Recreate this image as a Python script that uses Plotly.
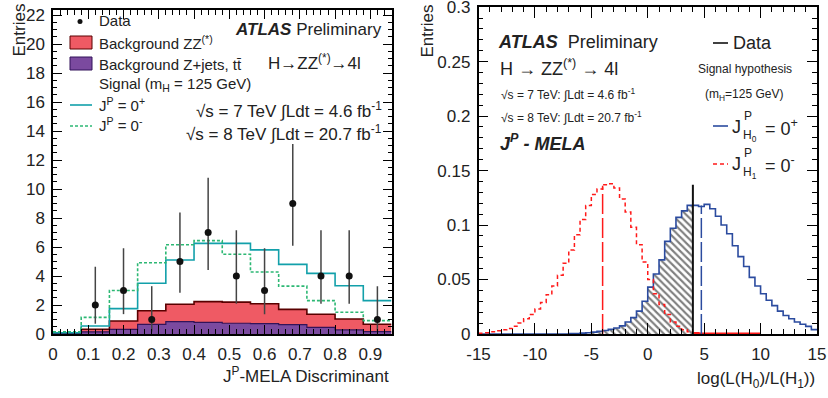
import numpy as np
import plotly.graph_objects as go

W, H = 828, 398
FONT = "Liberation Sans, Arial, Helvetica, sans-serif"

# ---------------- Left panel: JP-MELA discriminant ----------------
mela_lo, mela_width, mela_nbins = 0.0, 0.08, 12
bkg_zjets = [0.03, 0.15, 0.32, 0.67, 0.85, 0.80, 0.74, 0.71, 0.64, 0.46, 0.28, 0.16]
bkg_total = [0.05, 0.33, 0.90, 1.60, 2.05, 2.23, 2.20, 2.09, 1.70, 1.36, 1.03, 0.67]
sig_0plus = [0.09, 0.55, 1.75, 3.50, 5.10, 6.25, 6.25, 5.80, 4.80, 4.18, 3.33, 2.30]
sig_0minus = [0.16, 1.15, 3.00, 4.92, 6.16, 6.44, 5.50, 4.28, 3.30, 2.30, 1.50, 0.92]
data_bin = [1, 2, 3, 4, 5, 6, 7, 8, 9, 10, 11]
data_n = [2, 3, 1, 5, 7, 4, 3, 9, 4, 4, 1]
data_low = [0.71, 1.37, 0.17, 2.84, 4.42, 2.09, 1.37, 6.08, 2.09, 2.09, 0.17]
data_high = [4.64, 5.92, 3.30, 8.38, 10.77, 7.16, 5.92, 13.10, 7.16, 7.16, 3.30]
mela_xticks = [0, 0.1, 0.2, 0.3, 0.4, 0.5, 0.6, 0.7, 0.8, 0.9]
mela_yticks = [0, 2, 4, 6, 8, 10, 12, 14, 16, 18, 20, 22]

# ---------------- Right panel: log-likelihood ratio ----------------
llr_lo, llr_width, llr_nbins = -15.0, 0.5, 60
pdf_0plus = [0, 0, 0, 0, 0, 0, 0, 0, 0, 0, 0, 0, 0, 0, 0, 0,
             0.0003, 0.0005, 0.0008, 0.0012, 0.0017, 0.0024, 0.0032, 0.0042, 0.0055, 0.0075,
             0.011, 0.015, 0.021, 0.030,
             0.043, 0.055, 0.068, 0.085, 0.097, 0.107, 0.113, 0.118,
             0.118, 0.117, 0.119, 0.115, 0.108, 0.100, 0.092, 0.081,
             0.071, 0.062, 0.052, 0.044, 0.037, 0.031, 0.026, 0.021,
             0.017, 0.014, 0.011, 0.009, 0.007, 0.004]
pdf_0minus = [0.0008, 0.0012, 0.002, 0.003, 0.0038, 0.005, 0.007, 0.010, 0.014, 0.018,
              0.023, 0.029, 0.036, 0.044, 0.054, 0.065, 0.077, 0.091, 0.105, 0.118,
              0.128, 0.133, 0.137, 0.138, 0.134, 0.124, 0.112, 0.098, 0.082, 0.066,
              0.050, 0.037, 0.027, 0.018, 0.011, 0.007, 0.004, 0.002, 0.001,
              0.0005, 0.0005, 0.0005, 0.0005, 0.0005, 0.0005, 0.0005, 0.0005, 0.0005, 0.0005, 0.0005,
              0, 0, 0, 0, 0, 0, 0, 0, 0, 0]
observed_llr = 4.0
observed_height = 0.137
median_0minus = -4.0
median_0minus_height = 0.136
median_0plus = 4.75
median_0plus_height = 0.118
llr_xticks = [-15, -10, -5, 0, 5, 10, 15]
llr_xticktext = ["-15", "-10", "-5", "0", "5", "10", "15"]
llr_yticks = [0, 0.05, 0.1, 0.15, 0.2, 0.25, 0.3]

# colours
C_RED = "#ef5a64"
C_REDLINE = "#5a0000"
C_PURPLE = "#7b4a9f"
C_PURPLELINE = "#33135a"
C_TEAL = "#12a0aa"
C_GREEN = "#2db874"
C_BLUE = "#2b4b9f"
C_RED2 = "#ff1a1a"


def px(x):
    return x / W


def py(y):
    return 1 - y / H


def step_xy(lo, width, vals, start=0):
    edges = [lo + (start + i) * width for i in range(len(vals) + 1)]
    return edges, list(vals) + [vals[-1]]


fig = go.Figure()

# ---- left panel histograms
ex, ey = step_xy(mela_lo, mela_width, bkg_total)
fig.add_trace(go.Scatter(x=ex, y=ey, mode="lines", line=dict(shape="hv", color=C_REDLINE, width=1.6),
                         fill="tozeroy", fillcolor=C_RED, xaxis="x", yaxis="y"))
ex, ey = step_xy(mela_lo, mela_width, bkg_zjets)
fig.add_trace(go.Scatter(x=ex, y=ey, mode="lines", line=dict(shape="hv", color=C_PURPLELINE, width=1.2),
                         fill="tozeroy", fillcolor=C_PURPLE, xaxis="x", yaxis="y"))
ex, ey = step_xy(mela_lo, mela_width, sig_0plus)
fig.add_trace(go.Scatter(x=ex, y=ey, mode="lines", line=dict(shape="hv", color=C_TEAL, width=1.6),
                         xaxis="x", yaxis="y"))
ex, ey = step_xy(mela_lo, mela_width, sig_0minus)
fig.add_trace(go.Scatter(x=ex, y=ey, mode="lines", line=dict(shape="hv", color=C_GREEN, width=1.6, dash="3px,2px"),
                         xaxis="x", yaxis="y"))
dx = [mela_lo + (b + 0.5) * mela_width for b in data_bin]
fig.add_trace(go.Scatter(
    x=dx, y=data_n, mode="markers", marker=dict(color="#111", size=7),
    error_y=dict(type="data", symmetric=False,
                 array=[h - n for h, n in zip(data_high, data_n)],
                 arrayminus=[n - l for n, l in zip(data_n, data_low)],
                 color="#444", thickness=1.5, width=0),
    xaxis="x", yaxis="y"))

# ---- right panel
bx, by = step_xy(llr_lo, llr_width, pdf_0plus)
# hatched region (p-value area) left of the observed value
nh = int(round((observed_llr - llr_lo) / llr_width))
hx = bx[:nh + 1]
hy = pdf_0plus[:nh] + [pdf_0plus[nh - 1]]
fig.add_trace(go.Scatter(x=hx, y=hy, mode="lines", line=dict(shape="hv", width=0, color="rgba(0,0,0,0)"),
                         fill="tozeroy", fillcolor="rgba(0,0,0,0)",
                         fillpattern=dict(shape="\\", fgcolor="#000", bgcolor="rgba(255,255,255,0)",
                                          size=5, solidity=0.42),
                         xaxis="x2", yaxis="y2"))
fig.add_trace(go.Scatter(x=bx, y=by, mode="lines", line=dict(shape="hv", color=C_BLUE, width=1.6),
                         xaxis="x2", yaxis="y2"))
nr = int(round((observed_llr - llr_lo) / llr_width))
last_nz = max(i for i, v in enumerate(pdf_0minus) if v > 0)
rx, ry = step_xy(llr_lo, llr_width, pdf_0minus[:nr])
fig.add_trace(go.Scatter(x=rx, y=ry, mode="lines",
                         line=dict(shape="hv", color=C_RED2, width=1.5, dash="4px,3px"),
                         xaxis="x2", yaxis="y2"))
rx2, ry2 = step_xy(llr_lo, llr_width, pdf_0minus[nr:last_nz + 1], start=nr)
fig.add_trace(go.Scatter(x=rx2, y=ry2, mode="lines",
                         line=dict(shape="hv", color=C_RED2, width=2),
                         xaxis="x2", yaxis="y2"))
fig.add_trace(go.Scatter(x=[median_0minus, median_0minus], y=[0, median_0minus_height], mode="lines",
                         line=dict(color=C_RED2, width=1.5, dash="20px,4px"), xaxis="x2", yaxis="y2"))
fig.add_trace(go.Scatter(x=[median_0plus, median_0plus], y=[0, median_0plus_height], mode="lines",
                         line=dict(color=C_BLUE, width=1.5, dash="20px,4px"), xaxis="x2", yaxis="y2"))
fig.add_trace(go.Scatter(x=[observed_llr, observed_llr], y=[0, observed_height], mode="lines",
                         line=dict(color="#111", width=2), xaxis="x2", yaxis="y2"))

axis_common = dict(showline=True, linecolor="black", linewidth=1.5, mirror="allticks",
                   ticks="inside", tickcolor="black", tickwidth=1.2, showgrid=False, zeroline=False,
                   automargin=False, ticklabeloverflow="allow")
TF = dict(family=FONT, size=17, color="#222")

fig.update_layout(
    width=W, height=H, margin=dict(l=0, r=0, t=0, b=0, autoexpand=False),
    paper_bgcolor="white", plot_bgcolor="white", showlegend=False,
    font=dict(family=FONT, color="#222"),
    xaxis=dict(domain=[px(53), px(391.5)], range=[0, 0.96], tickvals=mela_xticks, ticklen=9,
               minor=dict(dtick=0.02, tick0=0, ticklen=5, ticks="inside", tickcolor="black", tickwidth=1),
               anchor="y", ticklabelstandoff=4, tickfont=TF, **axis_common),
    yaxis=dict(domain=[py(334), py(10)], range=[0, 22.35], tickvals=mela_yticks, ticklen=9,
               minor=dict(dtick=0.5, tick0=0, ticklen=4, ticks="inside", tickcolor="black", tickwidth=1),
               anchor="x", ticklabelstandoff=3, tickfont=TF, **axis_common),
    xaxis2=dict(domain=[px(478.5), px(817)], range=[-15, 15], tickvals=llr_xticks, ticktext=llr_xticktext,
                ticklen=11, minor=dict(dtick=1, tick0=0, ticklen=5, ticks="inside", tickcolor="black", tickwidth=1),
                anchor="y2", ticklabelstandoff=4, tickfont=TF, **axis_common),
    yaxis2=dict(domain=[py(334), py(7)], range=[0, 0.3001], tickvals=llr_yticks, ticklen=10,
                minor=dict(dtick=0.01, tick0=0, ticklen=5, ticks="inside", tickcolor="black", tickwidth=1),
                anchor="x2", ticklabelstandoff=3, tickfont=TF, **axis_common),
)

ann = []
shapes = []


def text(x, y, s, size, xanchor="left", yanchor="middle", angle=0, color="#222"):
    ann.append(dict(x=px(x), y=py(y), xref="paper", yref="paper", text=s, showarrow=False,
                    xanchor=xanchor, yanchor=yanchor, textangle=angle,
                    font=dict(family=FONT, size=size, color=color)))


# ---- axis titles
text(19, 2, "Entries", 17, xanchor="center", yanchor="top", angle=-90)
text(427, 2, "Entries", 17, xanchor="center", yanchor="top", angle=-90)
text(391, 375, "J<sup>P</sup>-MELA Discriminant", 17, xanchor="right")
text(817, 380, "log(L(H<sub>0</sub>)/L(H<sub>1</sub>))", 17, xanchor="right")

# ---- left legend
shapes.append(dict(type="circle", xref="paper", yref="paper", x0=px(77.5), x1=px(82.5), y0=py(24), y1=py(19),
                   fillcolor="#111", line=dict(width=0)))
shapes.append(dict(type="rect", xref="paper", yref="paper", x0=px(70), x1=px(92), y0=py(49), y1=py(36),
                   fillcolor=C_RED, line=dict(color=C_REDLINE, width=1)))
shapes.append(dict(type="rect", xref="paper", yref="paper", x0=px(70), x1=px(92), y0=py(70), y1=py(57),
                   fillcolor=C_PURPLE, line=dict(color=C_PURPLELINE, width=1)))
shapes.append(dict(type="line", xref="paper", yref="paper", x0=px(70), x1=px(92), y0=py(105), y1=py(105),
                   line=dict(color=C_TEAL, width=1.6)))
shapes.append(dict(type="line", xref="paper", yref="paper", x0=px(70), x1=px(92), y0=py(126), y1=py(126),
                   line=dict(color=C_GREEN, width=1.6, dash="3px,2px")))
text(97, 21, "Data", 15)
text(97, 42, "Background ZZ<sup>(*)</sup>", 15)
text(97, 64, "Background Z+jets, tt\u0304", 15)
text(97, 85, "Signal (m<sub>H</sub> = 125 GeV)", 15)
text(97, 104, "J<sup>P</sup> = 0<sup>+</sup>", 15)
text(97, 125, "J<sup>P</sup> = 0<sup>-</sup>", 15)
text(384, 29, "<b><i>ATLAS</i></b> Preliminary", 17, xanchor="right")
text(363, 62, "H\u2192ZZ<sup>(*)</sup>\u21924l", 17, xanchor="right")
text(384, 110, "\u221as = 7 TeV \u222bLdt = 4.6 fb<sup>-1</sup>", 17, xanchor="right")
text(384, 133, "\u221as = 8 TeV \u222bLdt = 20.7 fb<sup>-1</sup>", 17, xanchor="right")

# ---- right panel texts
text(496, 42, "<b><i>ATLAS</i></b>  Preliminary", 18)
text(498, 67, "H \u2192 ZZ<sup>(*)</sup> \u2192 4l", 18)
text(499, 94, "\u221as = 7 TeV: \u222bLdt = 4.6 fb<sup>-1</sup>", 12)
text(499, 117, "\u221as = 8 TeV: \u222bLdt = 20.7 fb<sup>-1</sup>", 12)
text(498, 142, "<b><i>J<sup>P</sup> - MELA</i></b>", 18)

# ---- right legend
shapes.append(dict(type="line", xref="paper", yref="paper", x0=px(713), x1=px(728), y0=py(43), y1=py(43),
                   line=dict(color="#111", width=1.6)))
text(731, 43, "Data", 18)
text(745, 69, "Signal hypothesis", 12, xanchor="center")
text(744, 95, "(m<sub>H</sub>=125 GeV)", 12, xanchor="center")
shapes.append(dict(type="line", xref="paper", yref="paper", x0=px(713), x1=px(728), y0=py(126), y1=py(126),
                   line=dict(color=C_BLUE, width=1.6)))
shapes.append(dict(type="line", xref="paper", yref="paper", x0=px(713), x1=px(728), y0=py(164), y1=py(164),
                   line=dict(color=C_RED2, width=1.5, dash="4px,3px")))
for yc, sub, sign in [(127, "0", "+"), (164, "1", "-")]:
    text(730, yc, "J", 18)
    text(742, yc - 11, "P", 12)
    text(741, yc + 9, "H<sub>%s</sub>" % sub, 12)
    text(763, yc, "= 0<sup>%s</sup>" % sign, 18)

fig.update_layout(annotations=ann, shapes=shapes)
fig.write_html("out.html", config={"displayModeBar": False},
               post_script="document.body.style.margin='0px';document.body.style.padding='0px';")
